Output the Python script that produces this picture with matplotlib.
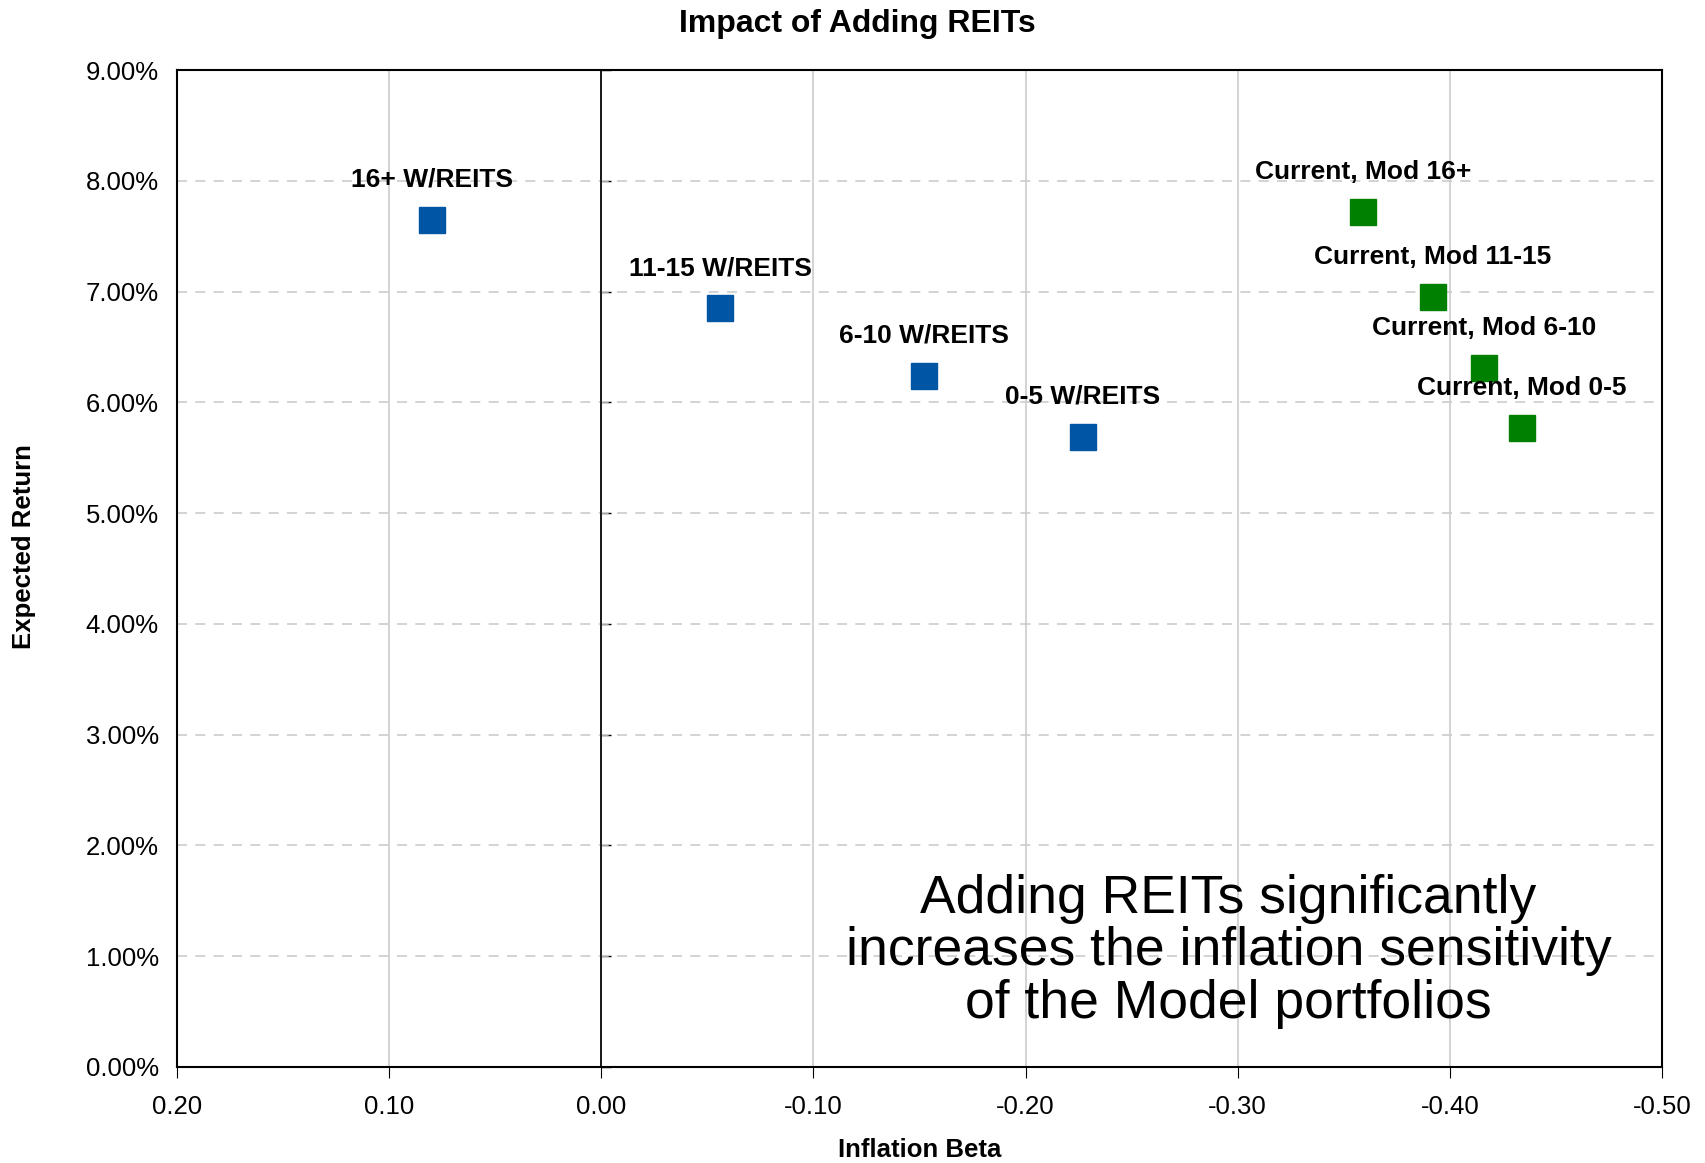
import matplotlib.pyplot as plt
from matplotlib.ticker import FuncFormatter

plt.rcParams['font.family'] = ['Liberation Sans', 'DejaVu Sans']

# REITs portfolios (blue)
reit_labels = ['16+ W/REITS', '11-15 W/REITS', '6-10 W/REITS', '0-5 W/REITS']
reit_beta = [0.080, -0.056, -0.152, -0.227]
reit_return = [7.65, 6.85, 6.24, 5.69]

# Current model portfolios (green)
cur_labels = ['Current, Mod 16+', 'Current, Mod 11-15', 'Current, Mod 6-10', 'Current, Mod 0-5']
cur_beta = [-0.359, -0.392, -0.416, -0.434]
cur_return = [7.72, 6.95, 6.31, 5.77]

x_ticks = [0.20, 0.10, 0.00, -0.10, -0.20, -0.30, -0.40, -0.50]
y_ticks = [0, 1, 2, 3, 4, 5, 6, 7, 8, 9]

fig = plt.figure(figsize=(17.05, 11.63), dpi=100)
ax = fig.add_axes([177 / 1705, 1 - 1067 / 1163, (1662 - 177) / 1705, (1067 - 70) / 1163])

ax.plot(reit_beta, reit_return, linestyle='none', marker='s', markersize=19,
        color='#0055A5', zorder=3)
ax.plot(cur_beta, cur_return, linestyle='none', marker='s', markersize=19,
        color='#008000', zorder=3)

for lab, x, y in zip(reit_labels + cur_labels, reit_beta + cur_beta, reit_return + cur_return):
    ax.annotate(lab, (x, y), xytext=(0, 20), textcoords='offset points',
                ha='center', va='bottom', fontsize=19, fontweight='bold', zorder=4)

ax.set_xlim(0.20, -0.50)
ax.set_ylim(0, 9)
ax.set_xticks(x_ticks)
ax.set_yticks(y_ticks)
ax.xaxis.set_major_formatter(FuncFormatter(lambda v, p: f'{v:.2f}'))
ax.yaxis.set_major_formatter(FuncFormatter(lambda v, p: f'{v:.2f}%'))
ax.tick_params(axis='x', labelsize=18.5, length=8, pad=12)
ax.tick_params(axis='y', labelsize=18.5, length=0, pad=13)

# grid: solid vertical, dashed horizontal
ax.grid(axis='x', color='#cccccc', linestyle='-', linewidth=1.2)
ax.grid(axis='y', color='#cccccc', linestyle=(0, (6, 5)), linewidth=1.2)
ax.set_axisbelow(True)

# vertical axis line at zero with its own tick marks
ax.axvline(0, color='black', linewidth=1.2, zorder=2)
sec = ax.secondary_yaxis(0, transform=ax.transData)
sec.set_yticks(y_ticks)
sec.tick_params(axis='y', direction='in', length=7, labelleft=False, width=1)
sec.spines['left'].set_linewidth(1.2)

for s in ax.spines.values():
    s.set_linewidth(1.5)
    s.set_color('black')

fig.text(0.503, 0.979, 'Impact of Adding REITs', fontsize=23, fontweight='bold',
         ha='center', va='center')
fig.text(0.5395, 0.011, 'Inflation Beta', fontsize=18.5, fontweight='bold',
         ha='center', va='center')
fig.text(0.014, 0.530, 'Expected Return', fontsize=18.5, fontweight='bold',
         ha='center', va='center', rotation=90)

ax.text(0.708, 0.116, 'Adding REITs significantly\nincreases the inflation sensitivity\nof the Model portfolios',
        transform=ax.transAxes, ha='center', va='center', fontsize=38.5,
        linespacing=1.07, zorder=4)

plt.savefig('out.png', dpi=100)
